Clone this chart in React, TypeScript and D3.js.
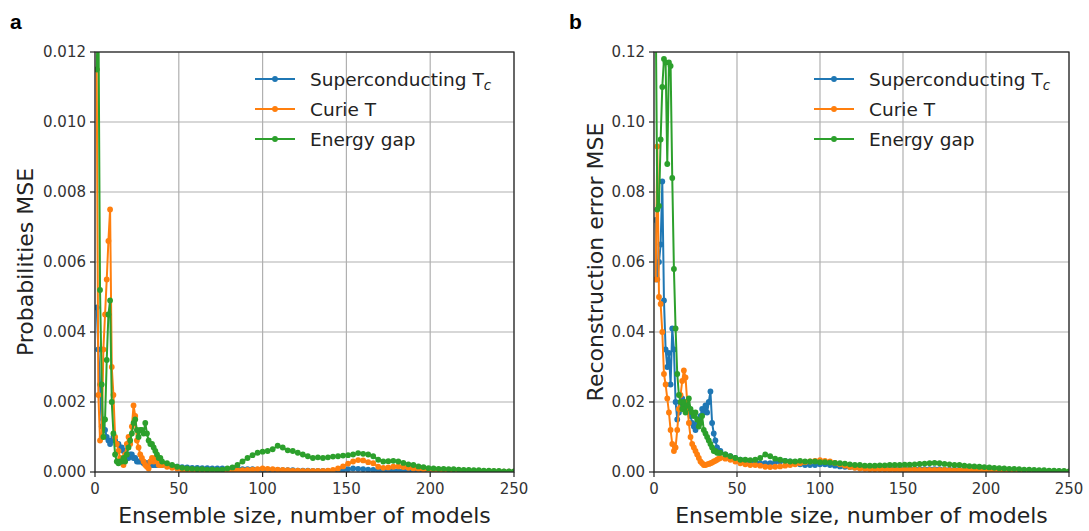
import React from 'react';
import * as d3 from 'd3';

// ---------- data ----------
const seriesNames = ['Superconducting T', 'Curie T', 'Energy gap'];
const seriesColors = ['#1f77b4', '#ff7f0e', '#2ca02c'];
const xTickValues = [0, 50, 100, 150, 200, 250];
const yTicksA = [0, 0.002, 0.004, 0.006, 0.008, 0.01, 0.012];
const yTicksB = [0, 0.02, 0.04, 0.06, 0.08, 0.1, 0.12];

// ensemble sizes: dense part 1..39, then every 3 models 40..250
const headX = d3.range(1, 40);
const tailX = d3.range(40, 251, 3);

// Panel a: probabilities MSE, in units of 1e-4
const UNIT_A = 1e-4;
const probBlueHead = [47, 35, 25, 13, 15, 12, 10, 9, 8, 9, 10, 9, 8, 8, 7, 7, 6, 6, 5, 4, 5, 5, 4, 4, 3, 3, 3, 3, 2.5, 2.5, 2.5, 2.5, 2.5, 2, 2, 2, 2, 2, 2];
const probOrangeHead = [115, 22, 9, 10, 35, 45, 55, 66, 75, 30, 22, 10, 8, 6, 4, 3, 2, 5, 8, 10, 8, 13, 19, 16, 9, 7, 5, 4, 3, 2, 1.5, 1, 3, 4, 3, 4, 3, 2, 2];
const probGreenHead = [115, 135, 52, 25, 10, 15, 32, 45, 49, 20, 11, 5, 3, 2.5, 3, 3, 4, 3, 5, 7, 9, 11, 14, 15, 12, 10, 12, 12, 11, 14, 11, 9, 8, 8, 7, 6, 5, 4, 4];
const probBlueTail = [2, 1.8, 1.6, 1.5, 1.4, 1.3, 1.2, 1.2, 1.1, 1.1, 1, 1, 1, 0.9, 0.9, 0.9, 0.8, 0.8, 0.8, 0.7, 0.7, 0.6, 0.6, 0.6, 0.5, 0.5, 0.5, 0.4, 0.4, 0.4, 0.3, 0.3, 0.3, 0.3, 0.3, 0.4, 0.6, 0.8, 1, 0.9, 0.8, 0.7, 0.6, 0.5, 0.4, 0.4, 0.4, 0.3, 0.3, 0.3, 0.3, 0.3, 0.2, 0.2, 0.2, 0.2, 0.2, 0.2, 0.2, 0.2, 0.1, 0.1, 0.1, 0.1, 0.1, 0.1, 0.1, 0.1, 0.1, 0.1, 0.1];
const probOrangeTail = [2, 1.5, 1.2, 1, 0.6, 0.4, 0.3, 0.3, 0.3, 0.3, 0.3, 0.3, 0.3, 0.3, 0.4, 0.5, 0.5, 0.6, 0.7, 0.8, 1, 0.9, 0.8, 0.7, 0.6, 0.5, 0.4, 0.4, 0.3, 0.3, 0.3, 0.3, 0.3, 0.4, 0.6, 1, 1.6, 2.4, 3, 3.4, 3.3, 2.8, 2.5, 1.5, 1.2, 1.3, 1.5, 1.6, 1.4, 1.2, 1, 0.9, 0.8, 0.8, 0.7, 0.6, 0.6, 0.5, 0.5, 0.4, 0.4, 0.3, 0.3, 0.3, 0.2, 0.2, 0.2, 0.1, 0.1, 0.1, 0.1];
const probGreenTail = [3, 2.5, 2, 1.5, 1.2, 1, 0.9, 0.8, 0.8, 0.7, 0.7, 0.6, 0.7, 1, 1.3, 2, 3, 4, 4.8, 5.5, 5.8, 6, 6.5, 7.5, 7, 6.2, 6, 5.5, 5, 4.5, 4, 4.2, 4, 4.2, 4.4, 4.5, 4.7, 4.8, 5, 5.4, 5.2, 5, 4.5, 3.5, 3, 3.1, 3.2, 3, 2.6, 2.2, 2, 1.6, 1.4, 1.1, 1, 0.9, 0.9, 0.8, 0.8, 0.7, 0.6, 0.6, 0.5, 0.5, 0.4, 0.4, 0.3, 0.3, 0.2, 0.2, 0.2];

// Panel b: reconstruction error MSE, in units of 1e-3
const UNIT_B = 1e-3;
const recBlueHead = [72, 55, 60, 65, 83, 49, 35, 30, 34, 25, 41, 35, 20, 15, 17, 19, 21, 18, 20, 19, 17, 16, 14, 13, 12, 14, 15, 16, 18, 17, 19, 17, 20, 23, 14, 11, 9, 7, 6];
const recOrangeHead = [55, 93, 50, 48, 40, 28, 25, 21, 17, 12, 8, 6, 7, 12, 18, 22, 26, 29, 27, 20, 14, 10, 8, 7, 6, 5, 4, 3, 2.5, 2, 2, 2.2, 2.3, 2.5, 2.7, 3, 3.2, 3.5, 3.8];
const recGreenHead = [135, 75, 76, 95, 110, 118, 117, 88, 117, 116, 84, 58, 41, 28, 22, 20, 18, 20, 17, 19, 21, 18, 17, 16, 17, 15, 13, 14, 16, 12, 11, 10, 9, 8, 7, 6, 6, 5.5, 5.5];
const recBlueTail = [6, 5, 4.5, 4, 3.5, 3, 3, 2.8, 2.5, 2.5, 2.5, 2.8, 3, 3.2, 3, 2.5, 2.2, 2, 2, 2, 2.2, 2.2, 2, 1.8, 1.6, 1.5, 1.4, 1.3, 1.2, 1.1, 1, 1, 1, 0.9, 0.9, 0.9, 0.8, 0.8, 0.8, 0.8, 0.8, 0.8, 0.8, 0.8, 0.8, 0.7, 0.7, 0.7, 0.7, 0.6, 0.6, 0.6, 0.6, 0.5, 0.5, 0.5, 0.5, 0.4, 0.4, 0.4, 0.4, 0.3, 0.3, 0.3, 0.3, 0.2, 0.2, 0.2, 0.2, 0.1, 0.1];
const recOrangeTail = [4, 3.8, 3.5, 3, 2.5, 2.2, 2, 2, 1.8, 1.5, 1.4, 1.5, 1.6, 1.8, 2, 2.2, 2.5, 2.8, 3, 3.2, 3.4, 3.2, 3, 2.6, 2.2, 1.8, 1.4, 1.2, 1, 0.9, 0.8, 0.8, 0.8, 0.8, 0.7, 0.7, 0.7, 0.7, 0.7, 0.7, 0.6, 0.6, 0.6, 0.6, 0.6, 0.6, 0.5, 0.5, 0.5, 0.5, 0.5, 0.5, 0.4, 0.4, 0.4, 0.4, 0.4, 0.3, 0.3, 0.3, 0.3, 0.3, 0.2, 0.2, 0.2, 0.2, 0.1, 0.1, 0.1, 0.1, 0.1];
const recGreenTail = [5.5, 5, 4.5, 4, 3.5, 3.5, 3.4, 3.5, 4, 5, 4.5, 3.8, 3.5, 3.2, 3, 3, 3.2, 3, 3, 3, 2.8, 2.8, 2.7, 2.6, 2.5, 2.4, 2.2, 2, 2, 1.8, 1.8, 1.8, 1.9, 1.9, 2, 2, 2, 2.1, 2.1, 2.2, 2.3, 2.4, 2.5, 2.6, 2.5, 2.3, 2.2, 2, 2, 1.8, 1.7, 1.6, 1.5, 1.4, 1.3, 1.2, 1.1, 1, 0.9, 0.9, 0.8, 0.7, 0.7, 0.6, 0.5, 0.5, 0.4, 0.4, 0.3, 0.3, 0.2];

type Pt = { x: number; y: number };
function build(head: number[], tail: number[], unit: number): Pt[] {
  const pts: Pt[] = [];
  head.forEach((v, i) => pts.push({ x: headX[i], y: v * unit }));
  tail.forEach((v, i) => { if (i < tailX.length) pts.push({ x: tailX[i], y: v * unit }); });
  return pts;
}

const panelAData = [
  build(probBlueHead, probBlueTail, UNIT_A),
  build(probOrangeHead, probOrangeTail, UNIT_A),
  build(probGreenHead, probGreenTail, UNIT_A),
];
const panelBData = [
  build(recBlueHead, recBlueTail, UNIT_B),
  build(recOrangeHead, recOrangeTail, UNIT_B),
  build(recGreenHead, recGreenTail, UNIT_B),
];

const FONT = 'DejaVu Sans, sans-serif';
const TICK_FS = 15;
const LABEL_FS = 22;

type PanelProps = {
  id: string;
  letter: string;
  left: number; right: number; top: number; bottom: number;
  yMax: number; yTicks: number[]; yFmt: string; yLabel: string; yLabelX: number;
  data: Pt[][];
  legendX: number;
};

function Panel(p: PanelProps) {
  const x = d3.scaleLinear().domain([0, 250]).range([p.left, p.right]);
  const y = d3.scaleLinear().domain([0, p.yMax]).range([p.bottom, p.top]);
  const line = d3.line<Pt>().x(d => x(d.x)).y(d => y(d.y));
  const fmt = d3.format(p.yFmt);
  const cx = (p.left + p.right) / 2;
  const cy = (p.top + p.bottom) / 2;
  return (
    <g>
      <defs>
        <clipPath id={`clip-${p.id}`}>
          <rect x={p.left} y={p.top} width={p.right - p.left} height={p.bottom - p.top} />
        </clipPath>
      </defs>
      {/* grid */}
      {xTickValues.map(t => (
        <line key={`gx${t}`} x1={x(t)} x2={x(t)} y1={p.top} y2={p.bottom} stroke="#b0b0b0" strokeWidth={1.2} />
      ))}
      {p.yTicks.map(t => (
        <line key={`gy${t}`} x1={p.left} x2={p.right} y1={y(t)} y2={y(t)} stroke="#b0b0b0" strokeWidth={1.2} />
      ))}
      {/* series */}
      <g clipPath={`url(#clip-${p.id})`}>
        {p.data.map((s, i) => (
          <g key={i}>
            <path d={line(s) || ''} fill="none" stroke={seriesColors[i]} strokeWidth={2} strokeLinejoin="round" />
            {s.map((d, j) => (
              <circle key={j} cx={x(d.x)} cy={y(d.y)} r={2.9} fill={seriesColors[i]} />
            ))}
          </g>
        ))}
      </g>
      {/* spines */}
      <rect x={p.left} y={p.top} width={p.right - p.left} height={p.bottom - p.top} fill="none" stroke="#222" strokeWidth={1.2} />
      {/* ticks */}
      {xTickValues.map(t => (
        <g key={`tx${t}`}>
          <line x1={x(t)} x2={x(t)} y1={p.bottom} y2={p.bottom + 5} stroke="#222" strokeWidth={1.2} />
          <text x={x(t)} y={p.bottom + 22} textAnchor="middle" fontFamily={FONT} fontSize={TICK_FS} fill="#333">{t}</text>
        </g>
      ))}
      {p.yTicks.map(t => (
        <g key={`ty${t}`}>
          <line x1={p.left - 5} x2={p.left} y1={y(t)} y2={y(t)} stroke="#222" strokeWidth={1.2} />
          <text x={p.left - 9} y={y(t)} dy="0.36em" textAnchor="end" fontFamily={FONT} fontSize={TICK_FS} fill="#333">{fmt(t)}</text>
        </g>
      ))}
      {/* axis labels */}
      <text x={cx} y={p.bottom + 51} textAnchor="middle" fontFamily={FONT} fontSize={LABEL_FS} fill="#222">Ensemble size, number of models</text>
      <text transform={`translate(${p.yLabelX},${cy}) rotate(-90)`} textAnchor="middle" fontFamily={FONT} fontSize={LABEL_FS} fill="#222">{p.yLabel}</text>
      {/* panel letter */}
      <text x={p.left - 85} y={29} fontFamily="Liberation Sans, Arial, sans-serif" fontWeight="bold" fontSize={21} fill="#000">{p.letter}</text>
      {/* legend */}
      {seriesNames.map((name, i) => {
        const ly = 79 + i * 30;
        return (
          <g key={`lg${i}`}>
            <line x1={p.legendX} x2={p.legendX + 40} y1={ly} y2={ly} stroke={seriesColors[i]} strokeWidth={2} />
            <circle cx={p.legendX + 20} cy={ly} r={2.9} fill={seriesColors[i]} />
            <text x={p.legendX + 55} y={ly} dy="0.36em" fontFamily={FONT} fontSize={18.5} fill="#222">
              {name}
              {i === 0 && <tspan fontStyle="italic" fontSize={13.5} dy={4}>c</tspan>}
            </text>
          </g>
        );
      })}
    </g>
  );
}

export default function App() {
  return (
    <svg width={1089} height={531} style={{ position: 'absolute', left: 0, top: 0, background: '#fff' }}>
      <rect width={1089} height={531} fill="#fff" />
      <Panel id="a" letter="a" left={95} right={514} top={52} bottom={472}
        yMax={0.012} yTicks={yTicksA} yFmt=".3f" yLabel="Probabilities MSE" yLabelX={33}
        data={panelAData} legendX={255} />
      <Panel id="b" letter="b" left={654} right={1069} top={52} bottom={472}
        yMax={0.12} yTicks={yTicksB} yFmt=".2f" yLabel="Reconstruction error MSE" yLabelX={603}
        data={panelBData} legendX={814} />
    </svg>
  );
}
